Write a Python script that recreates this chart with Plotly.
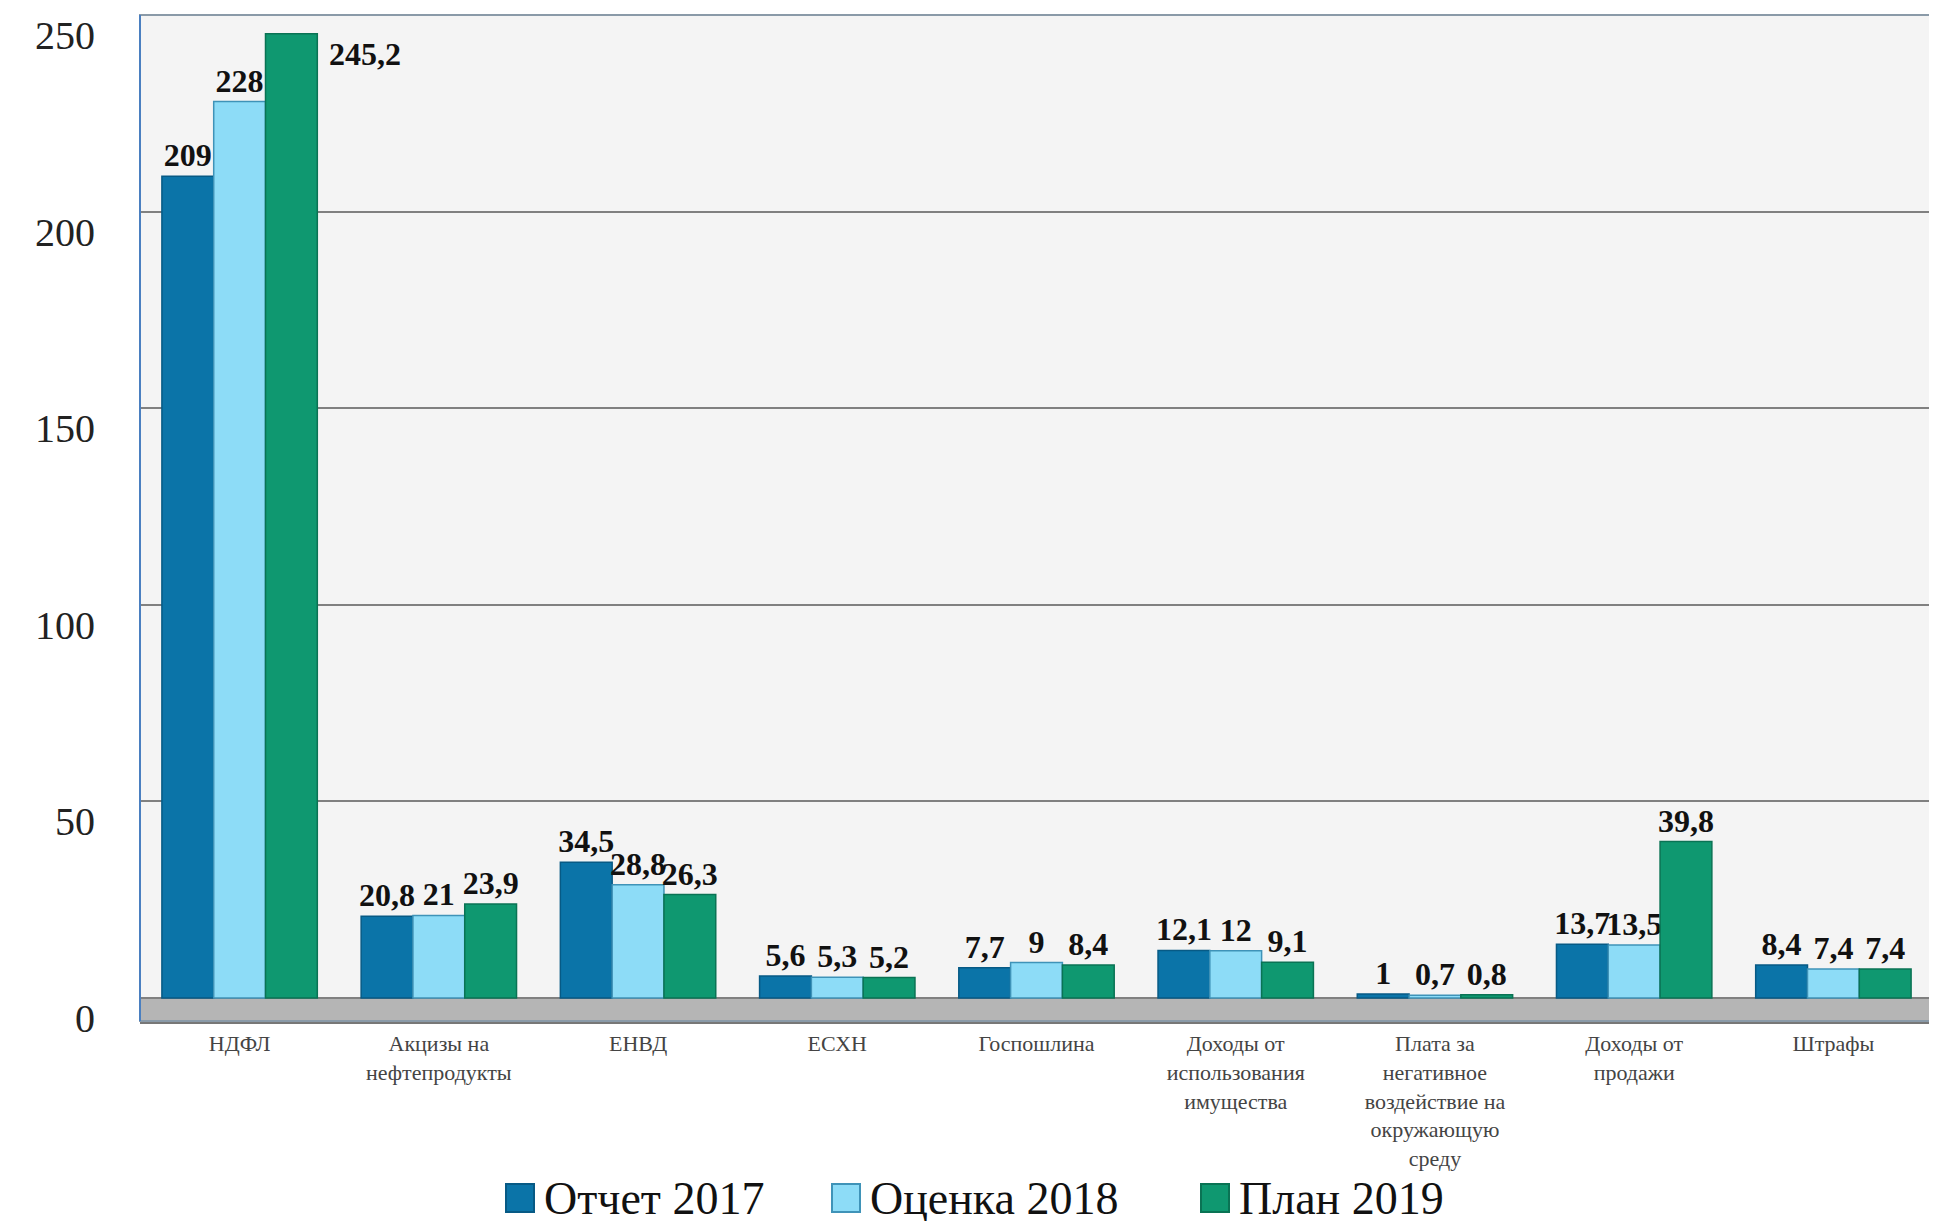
import plotly.graph_objects as go

categories = ["НДФЛ", "Акцизы на<br>нефтепродукты", "ЕНВД", "ЕСХН", "Госпошлина",
              "Доходы от<br>использования<br>имущества",
              "Плата за<br>негативное<br>воздействие на<br>окружающую<br>среду",
              "Доходы от<br>продажи", "Штрафы"]
otchet_2017 = [209, 20.8, 34.5, 5.6, 7.7, 12.1, 1, 13.7, 8.4]
ocenka_2018 = [228, 21, 28.8, 5.3, 9, 12, 0.7, 13.5, 7.4]
plan_2019 = [245.2, 23.9, 26.3, 5.2, 8.4, 9.1, 0.8, 39.8, 7.4]
series_names = ["Отчет 2017", "Оценка 2018", "План 2019"]
colors = ["#0b74a8", "#8ddcf7", "#0f9870"]
line_colors = ["#075a85", "#3f93b8", "#0a7354"]
tick_vals = [0, 50, 100, 150, 200, 250]

W, H = 1937, 1221
ML, MR, MT, MB = 132, 12, 7, 208
PW, PH = W - ML - MR, H - MT - MB
Y_MIN, Y_MAX = -5.85, 250
LABEL_FONT = dict(family="Liberation Serif", size=32, color="#111", weight="bold")

def fmt(v):
    return f"{v:g}".replace(".", ",")

def px_to_paper(xpx, ypx):
    return (xpx - ML) / PW, (H - MB - ypx) / PH

fig = go.Figure()
side_labels = []
for i, (name, vals, c, lc) in enumerate(zip(series_names, [otchet_2017, ocenka_2018, plan_2019], colors, line_colors)):
    texts = []
    for cat, v in zip(categories, vals):
        if v > Y_MAX - 12:  # would be clipped at the top: put label beside the bar
            texts.append("")
            side_labels.append((i, cat, v))
        else:
            texts.append(fmt(v))
    fig.add_trace(go.Bar(
        x=categories, y=vals, name=name, showlegend=False,
        marker=dict(color=c, line=dict(color=lc, width=1.5)),
        text=texts, textposition="outside", textfont=LABEL_FONT,
        constraintext="none", cliponaxis=False,
    ))

bar_px = PW / len(categories) * (1 - 0.22) / 3
for i, cat, v in side_labels:
    fig.add_annotation(x=cat, y=v, xref="x", yref="y", text=fmt(v), showarrow=False,
                       xanchor="left", yanchor="top", xshift=(i - 1) * bar_px + bar_px / 2 + 10,
                       font=LABEL_FONT)

# manual legend (large swatches like the original)
legend_y = 1190
legend_swatch_x = [498, 824, 1193]
sw = 28
for name, c, lc, sx in zip(series_names, colors, line_colors, legend_swatch_x):
    x0, y0 = px_to_paper(sx, legend_y + sw / 2)
    x1, y1 = px_to_paper(sx + sw, legend_y - sw / 2)
    fig.add_shape(type="rect", xref="paper", yref="paper", x0=x0, x1=x1, y0=y0, y1=y1,
                  fillcolor=c, line=dict(color=lc, width=2))
    tx, ty = px_to_paper(sx + sw + 8, legend_y)
    fig.add_annotation(x=tx, y=ty, xref="paper", yref="paper", text=name, showarrow=False,
                       xanchor="left", yanchor="middle",
                       font=dict(family="Liberation Serif", size=46, color="#111"))

# floor band
fig.add_shape(type="rect", xref="paper", yref="y", x0=0, x1=1, y0=Y_MIN, y1=0,
              fillcolor="#b5b5b5", line=dict(width=0), layer="below")
# frame
fig.add_shape(type="rect", xref="paper", yref="paper", x0=0, x1=1, y0=0, y1=1,
              line=dict(color="#8a9aa8", width=2), layer="above")
fig.add_shape(type="line", xref="paper", yref="paper", x0=0, x1=0, y0=0, y1=1,
              line=dict(color="#4a7fc0", width=2), layer="above")

fig.update_layout(
    width=W, height=H,
    margin=dict(l=ML, r=MR, t=MT, b=MB, autoexpand=False),
    paper_bgcolor="white", plot_bgcolor="#f4f4f4",
    barmode="group", bargap=0.22, bargroupgap=0,
    font=dict(family="Liberation Serif", color="#222"),
    showlegend=False,
    xaxis=dict(tickfont=dict(size=22, color="#444"), ticks="", showline=True,
               linecolor="#777", linewidth=3, ticklabelstandoff=1, automargin=False),
    yaxis=dict(range=[Y_MIN, Y_MAX], tickvals=tick_vals, ticktext=[str(v) for v in tick_vals],
               tickfont=dict(size=40, color="#222"), showgrid=True, gridcolor="#808080",
               gridwidth=1.5, zeroline=False, ticklabelstandoff=44, ticklabelshift=20,
               automargin=False),
)
fig.write_html("out.html")
